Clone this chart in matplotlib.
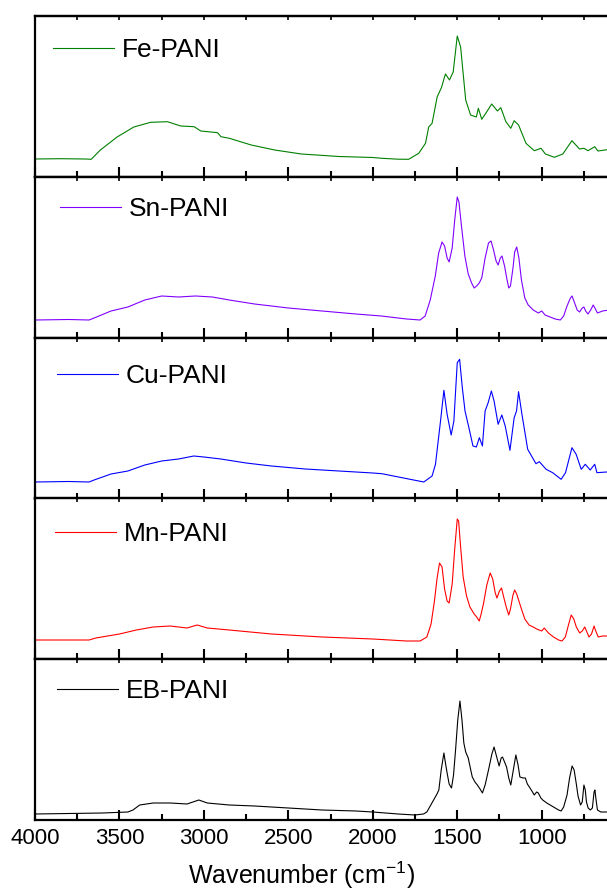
import matplotlib
matplotlib.use("Agg")
import matplotlib.pyplot as plt
from matplotlib.ticker import MultipleLocator

plt.rcParams['font.family'] = ['Liberation Sans', 'DejaVu Sans']
plt.rcParams['mathtext.fontset'] = 'custom'
plt.rcParams['mathtext.rm'] = 'Liberation Sans'
plt.rcParams['mathtext.it'] = 'Liberation Sans:italic'
plt.rcParams['mathtext.bf'] = 'Liberation Sans:bold'

# FTIR spectra (wavenumber in cm^-1, absorbance in arbitrary units)
fe_wn = [4000, 3850, 3700, 3667, 3613, 3514, 3415, 3315, 3216, 3137, 3058, 3018, 2919, 2899,
         2849, 2720, 2581, 2423, 2200, 2000, 1946, 1850, 1788, 1728, 1688, 1669, 1649, 1619,
         1593, 1570, 1546, 1524, 1500, 1480, 1450, 1421, 1387, 1375, 1355, 1325, 1296, 1262,
         1242, 1212, 1183, 1163, 1137, 1093, 1044, 1004, 978, 925, 875, 821, 776, 750, 726,
         686, 667, 595]
fe_ab = [18, 18.3, 18, 17.7, 27, 40, 50, 54.7, 55.3, 51, 50.3, 46, 44.3, 40.3,
         38.7, 32, 27, 23, 20.5, 19.5, 18.7, 17.8, 17.7, 23.7, 33.7, 50, 53.7, 80,
         89.7, 103, 97, 105, 141, 130, 77, 62, 60, 68.7, 57.7, 65.3, 73, 66,
         69.3, 55.3, 48.7, 56.3, 52, 33.7, 26.3, 28.7, 23, 19.7, 23, 36.3, 28, 28.7, 26.3,
         30.3, 26, 27.7]

sn_wn = [4000, 3800, 3680, 3650, 3550, 3450, 3350, 3250, 3150, 3050, 2950, 2850, 2700, 2500,
         2300, 2100, 1950, 1800, 1720, 1690, 1660, 1630, 1610, 1590, 1575, 1560, 1548, 1530,
         1515, 1500, 1490, 1475, 1455, 1435, 1415, 1400, 1385, 1370, 1355, 1335, 1315, 1300,
         1285, 1270, 1258, 1245, 1235, 1220, 1205, 1195, 1185, 1170, 1160, 1148, 1135, 1120,
         1100, 1080, 1050, 1020, 1000, 980, 950, 920, 890, 870, 850, 830, 820, 805, 790, 776,
         760, 750, 740, 726, 710, 695, 685, 670, 640, 600]
sn_ab = [18, 18.5, 18, 20, 27, 31, 38, 42, 41, 42, 41, 38, 34, 30,
         27, 24, 22, 19, 18, 22, 38, 62, 85, 96, 92, 80, 76, 90,
         118, 141, 136, 112, 82, 64, 55, 50, 52, 55, 60, 80, 95, 97,
         88, 77, 73, 80, 82, 72, 58, 50, 52, 70, 86, 91, 80, 58,
         40, 33, 28, 25, 27, 23, 21, 19, 18, 22, 32, 40, 42, 35, 28, 26,
         30, 31, 27, 24, 28, 33, 30, 25, 27, 28]

cu_wn = [4000, 3800, 3680, 3650, 3550, 3450, 3350, 3250, 3150, 3060, 3000, 2900, 2750, 2600,
         2400, 2200, 2000, 1946, 1827, 1698, 1649, 1629, 1599, 1579, 1560, 1536, 1520, 1500,
         1486, 1470, 1454, 1431, 1407, 1387, 1369, 1351, 1335, 1317, 1298, 1282, 1258, 1236,
         1216, 1188, 1163, 1149, 1137, 1117, 1083, 1034, 1014, 974, 935, 885, 859, 821, 796,
         766, 742, 713, 686, 673, 617, 595]
cu_ab = [17, 17.5, 17, 19, 25, 28, 34, 38, 40, 43, 42, 40, 36, 33,
         30, 28, 26, 25.3, 21.3, 17, 23, 34.7, 78, 108.7, 84.7, 64, 78, 136.3,
         139.7, 111.3, 88, 71.3, 53, 52, 61.3, 53, 88, 96.3, 108, 98, 74.7, 84,
         73, 48.7, 81.3, 88, 107.3, 84.7, 49.7, 35.3, 37.3, 29.7, 26.3, 19.7, 26.3, 51.3, 44.7,
         29.7, 34.7, 29, 34.7, 26.3, 27, 26.3]

mn_wn = [4000, 3800, 3680, 3640, 3500, 3400, 3300, 3200, 3100, 3040, 2980, 2850, 2600, 2300,
         2000, 1800, 1720, 1680, 1655, 1635, 1620, 1605, 1590, 1575, 1560, 1548, 1530, 1515,
         1500, 1492, 1480, 1465, 1445, 1425, 1400, 1385, 1370, 1360, 1345, 1325, 1305, 1290,
         1275, 1265, 1250, 1238, 1225, 1210, 1195, 1185, 1170, 1160, 1148, 1135, 1120, 1100,
         1075, 1050, 1030, 1000, 985, 960, 930, 900, 880, 860, 840, 825, 810, 795, 775, 760,
         745, 735, 720, 705, 690, 680, 665, 640, 600]
mn_ab = [19, 19, 19, 21, 25, 29, 32, 33, 31, 34, 31, 29, 25, 22,
         20, 18, 18, 22, 35, 58, 80, 96, 92, 70, 58, 56, 75, 110,
         140, 138, 112, 82, 63, 52, 45, 42, 38, 44, 55, 74, 86, 80,
         66, 61, 68, 71, 62, 52, 44, 50, 64, 69, 65, 58, 50, 40,
         34, 32, 30, 28, 31, 26, 22, 19, 18, 22, 35, 44, 40, 32, 26, 28,
         32, 28, 22, 25, 33, 28, 22, 23, 23]

eb_wn = [4000, 3800, 3600, 3450, 3420, 3380, 3300, 3200, 3100, 3030, 2980, 2850, 2700, 2500,
         2300, 2100, 2000, 1850, 1750, 1700, 1680, 1660, 1640, 1620, 1609, 1595, 1579, 1568,
         1560, 1548, 1534, 1522, 1510, 1497, 1484, 1472, 1461, 1450, 1435, 1420, 1411, 1395,
         1381, 1365, 1351, 1335, 1315, 1295, 1282, 1268, 1252, 1240, 1232, 1220, 1208, 1195,
         1183, 1168, 1153, 1140, 1129, 1110, 1097, 1085, 1073, 1058, 1044, 1030, 1020, 1005,
         994, 970, 950, 920, 900, 885, 870, 850, 835, 820, 808, 795, 785, 770, 760, 750, 742,
         735, 725, 712, 700, 690, 685, 678, 670, 650, 620, 600]
eb_ab = [6, 6.5, 7, 8, 10, 15, 17, 17, 16, 20, 17, 15, 14, 12,
         10, 9, 8, 6, 5, 6, 8, 14, 20, 26, 30, 50, 67, 55,
         47, 36, 32, 45, 70, 100, 119, 100, 77, 68, 62, 50, 43, 38,
         35, 31, 27, 35, 50, 66, 73, 64, 54, 62, 63, 58, 53, 42,
         35, 50, 65, 55, 43, 42, 42, 36, 33, 29, 25, 28, 27, 22,
         20, 17, 15, 12, 10, 9, 13, 25, 42, 54, 50, 36, 24, 15, 18, 35, 30,
         18, 12, 10, 12, 28, 30, 20, 10, 8, 8, 8]

names = ['Fe-PANI', 'Sn-PANI', 'Cu-PANI', 'Mn-PANI', 'EB-PANI']
spectra = [(fe_wn, fe_ab), (sn_wn, sn_ab), (cu_wn, cu_ab), (mn_wn, mn_ab), (eb_wn, eb_ab)]
colors = ['#008000', '#8000FF', '#0000FF', '#FF0000', '#000000']

W, H = 607, 893
fig = plt.figure(figsize=(W / 100, H / 100), dpi=100)

panel_top = [16, 177, 338, 498, 659]
panel_h = 161
left_px = 35
px_per_unit = 0.1689
x_max, x_min = 4000, 595
width_px = (x_max - x_min) * px_per_unit

legend_x = [53, 60, 57, 55, 57]
legend_y = [49, 208, 375, 533, 690]

axes = []
for i, (name, (wn, ab), c) in enumerate(zip(names, spectra, colors)):
    top = panel_top[i]
    ax = fig.add_axes([left_px / W, 1 - (top + panel_h) / H, width_px / W, panel_h / H])
    ax.plot(wn, ab, color=c, lw=0.8, label=name)
    ax.set_xlim(x_max, x_min)
    ax.set_ylim(0, panel_h)
    ax.set_yticks([])
    for s in ax.spines.values():
        s.set_linewidth(1.6)
    ax.spines['right'].set_visible(False)
    ax.xaxis.set_major_locator(MultipleLocator(500))
    ax.xaxis.set_minor_locator(MultipleLocator(250))
    ax.tick_params(axis='x', which='major', direction='in', length=7, width=1.5,
                   labelsize=16, pad=6)
    ax.tick_params(axis='x', which='minor', direction='in', length=4, width=1.5)
    if i < 4:
        ax.tick_params(axis='x', labelbottom=False)
    sec = ax.secondary_xaxis('top')
    sec.xaxis.set_major_locator(MultipleLocator(250))
    sec.tick_params(axis='x', direction='in', length=3, width=1.2, labeltop=False)
    sec.spines['top'].set_linewidth(1.6)

    lx = (legend_x[i] - left_px) / width_px
    ly = 1 - (legend_y[i] - top - 11) / panel_h
    ax.legend(loc='upper left', bbox_to_anchor=(lx, ly), frameon=False, fontsize=19,
              handlelength=2.3, handletextpad=0.3, borderpad=0, borderaxespad=0)
    axes.append(ax)

axes[-1].set_xlabel('Wavenumber (cm$^{-1}$)', fontsize=18)
axes[-1].xaxis.set_label_coords((302 - left_px) / width_px, -(875 - 820) / panel_h)
axes[-1].xaxis.label.set_verticalalignment('center')

fig.savefig('out.png', dpi=100)
